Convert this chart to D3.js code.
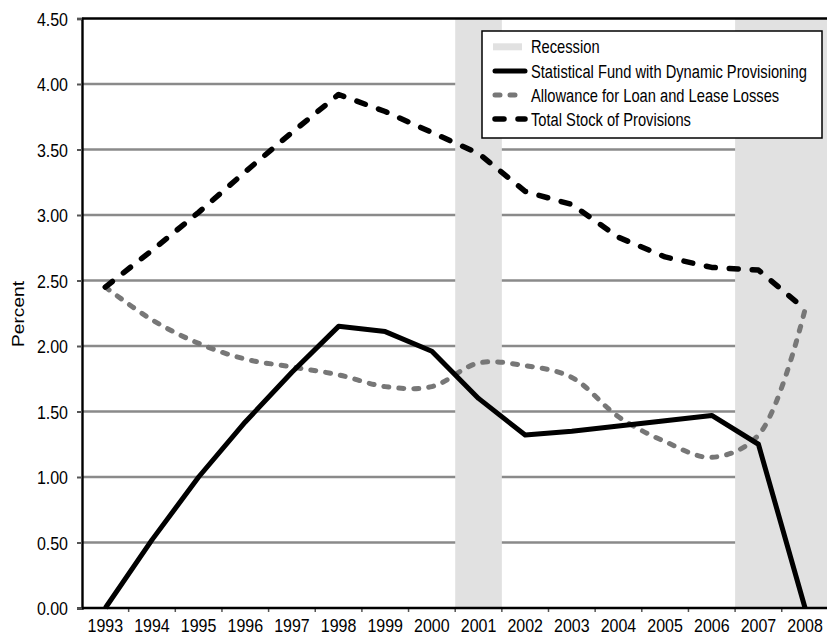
<!DOCTYPE html>
<html>
<head>
<meta charset="utf-8">
<script src="https://cdn.jsdelivr.net/npm/d3@7"></script>
<style>
html,body{margin:0;padding:0;background:#fff;overflow:hidden;}
svg{display:block;font-family:"Liberation Sans",Arial,Helvetica,sans-serif;}
</style>
</head>
<body>
<svg id="chart" width="827" height="637"></svg>
<script>
const years = [1993,1994,1995,1996,1997,1998,1999,2000,2001,2002,2003,2004,2005,2006,2007,2008];
const fund = [0, 0.52, 1.00, 1.42, 1.80, 2.15, 2.11, 1.96, 1.60, 1.32, 1.35, 1.39, 1.43, 1.47, 1.25, 0];
const allowance = [2.45, 2.20, 2.02, 1.90, 1.84, 1.78, 1.69, 1.69, 1.87, 1.85, 1.76, 1.46, 1.27, 1.15, 1.32, 2.28];
const total = [2.45, 2.73, 3.02, 3.33, 3.63, 3.92, 3.79, 3.63, 3.47, 3.18, 3.08, 2.83, 2.68, 2.60, 2.58, 2.28];
const recessions = [[2001, 2001], [2007, 2008]];
const yTicks = [0, 0.5, 1, 1.5, 2, 2.5, 3, 3.5, 4, 4.5];
const legendLabels = ["Recession", "Statistical Fund with Dynamic Provisioning", "Allowance for Loan and Lease Losses", "Total Stock of Provisions"];
const yLabel = "Percent";

(function () {
const svg = d3.select("#chart");
const pLeft = 82, pTop = 18.5, pBottom = 608, band = 46.65, pRight = 827;
const x = d3.scaleBand().domain(years).range([pLeft, pLeft + band * years.length]).padding(0);
const xc = d => x(d) + x.bandwidth() / 2;
const y = d3.scaleLinear().domain([0, 4.5]).range([pBottom, pTop]);
const SY = 1.2;

// gridlines
svg.append("g").selectAll("line").data(yTicks.filter(v => v > 0 && v < 4.5)).join("line")
  .attr("x1", pLeft).attr("x2", pRight).attr("y1", d => y(d)).attr("y2", d => y(d))
  .attr("stroke", "#8a8a8a").attr("stroke-width", 2.4);

// recession shading
svg.append("g").selectAll("rect").data(recessions).join("rect")
  .attr("x", d => x(d[0])).attr("width", d => x(d[1]) + x.bandwidth() - x(d[0]))
  .attr("y", y(4.5)).attr("height", y(0) - y(4.5))
  .attr("fill", "#e1e1e1");

// top border
svg.append("line").attr("x1", pLeft).attr("x2", pRight).attr("y1", y(4.5)).attr("y2", y(4.5))
  .attr("stroke", "#000").attr("stroke-width", 2.4);

// y axis
const yAxis = svg.append("g").attr("transform", `translate(${pLeft},0)`)
  .call(d3.axisLeft(y).tickValues(yTicks).tickFormat(d3.format(".2f")).tickSize(5).tickPadding(9));
yAxis.select(".domain").attr("stroke", "#000").attr("stroke-width", 2.4);
yAxis.selectAll(".tick line").attr("stroke", "#555").attr("stroke-width", 2);
yAxis.selectAll(".tick text").attr("font-size", 16).attr("font-family", null).attr("fill", "#000")
  .attr("dy", null).attr("y", 5.6).attr("transform", `scale(1,${SY})`);

// x axis
const xAxis = svg.append("g").attr("transform", `translate(0,${pBottom})`)
  .call(d3.axisBottom(x).tickSize(0).tickPadding(0));
xAxis.select(".domain").remove();
xAxis.selectAll(".tick text").attr("font-size", 16).attr("font-family", null).attr("fill", "#000")
  .attr("dy", null).attr("y", 20.4).attr("transform", `scale(1,${SY})`);
svg.append("g").selectAll("line").data(years.slice(1)).join("line")
  .attr("x1", d => x(d)).attr("x2", d => x(d)).attr("y1", pBottom).attr("y2", pBottom + 4)
  .attr("stroke", "#555").attr("stroke-width", 1.5);
svg.append("line").attr("x1", pLeft).attr("x2", pRight).attr("y1", pBottom).attr("y2", pBottom)
  .attr("stroke", "#000").attr("stroke-width", 2.4);

// y label
svg.append("text").attr("transform", `translate(24,314) scale(1,${SY}) rotate(-90)`)
  .attr("text-anchor", "middle").attr("font-size", 16).text(yLabel);

// lines
const line = (curve) => d3.line().x((d, i) => xc(years[i])).y(d => y(d)).curve(curve);
const styles = [
  {data: allowance, stroke: "#777", width: 5, dash: "5,10", curve: d3.curveCatmullRom.alpha(0.5)},
  {data: total, stroke: "#000", width: 5.5, dash: "9,14", curve: d3.curveLinear},
  {data: fund, stroke: "#000", width: 5, dash: null, curve: d3.curveLinear}
];
styles.forEach(s => {
  svg.append("path").attr("d", line(s.curve)(s.data))
    .attr("fill", "none").attr("stroke", s.stroke).attr("stroke-width", s.width)
    .attr("stroke-dasharray", s.dash).attr("stroke-linecap", s.dash ? "round" : "butt")
    .attr("stroke-linejoin", "round");
});

// legend
const lg = svg.append("g");
lg.append("rect").attr("x", 482).attr("y", 31).attr("width", 340).attr("height", 107)
  .attr("fill", "#fff").attr("stroke", "#000").attr("stroke-width", 1.5);
const rowY = [46.8, 71, 95, 119];
lg.append("rect").attr("x", 493).attr("y", rowY[0] - 3.5).attr("width", 29).attr("height", 7).attr("fill", "#e1e1e1");
const legendLines = [
  {stroke: "#000", width: 5, dash: null},
  {stroke: "#777", width: 5, dash: "5,10"},
  {stroke: "#000", width: 5.5, dash: "9,14"}
];
legendLines.forEach((s, i) => {
  lg.append("line").attr("x1", 495).attr("x2", 525).attr("y1", rowY[i + 1]).attr("y2", rowY[i + 1])
    .attr("stroke", s.stroke).attr("stroke-width", s.width).attr("stroke-dasharray", s.dash)
    .attr("stroke-linecap", "round");
});
legendLabels.forEach((t, i) => {
  lg.append("text").attr("transform", `translate(531,${rowY[i] + 6.6}) scale(1,${SY})`)
    .attr("font-size", 14.7).attr("fill", "#000").text(t);
});
})();
</script>
</body>
</html>
